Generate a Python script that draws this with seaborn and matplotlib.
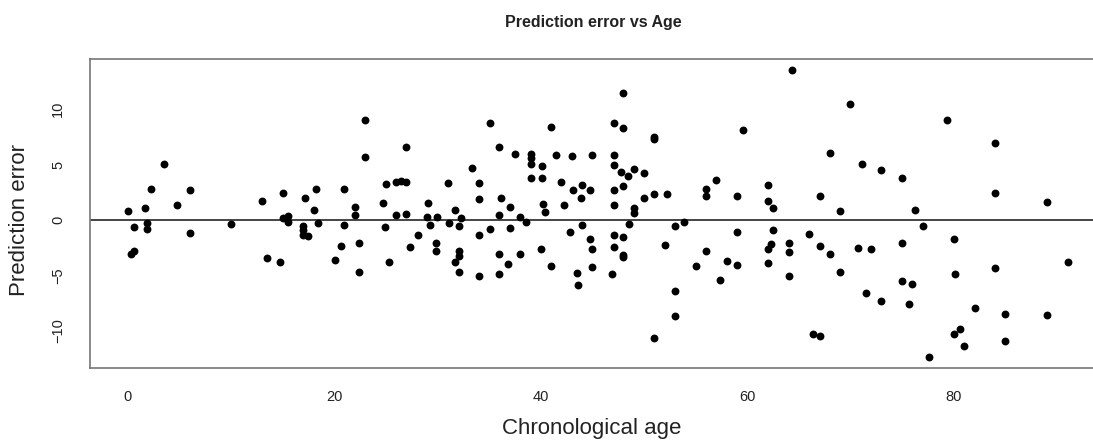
import numpy as np
import pandas as pd
import matplotlib
matplotlib.use("Agg")
import matplotlib.pyplot as plt
import seaborn as sns

# chronological age (years)
age = [
    0.0, 0.6, 0.3, 0.6, 3.5, 2.3, 1.7, 1.9, 1.9, 4.8, 6.0, 6.0, 10.0, 13.0, 13.5,
    14.8, 15.0, 15.0, 15.5, 15.5, 17.0, 17.0, 17.0, 17.5, 17.2, 18.0, 18.2, 18.4,
    20.1, 20.7, 21.0, 21.0, 22.0, 22.0, 22.4, 22.4, 23.0, 23.0, 24.7, 25.0, 24.9,
    25.3, 26.0, 26.5, 27.0, 27.0, 26.0, 27.0, 27.3, 28.1, 29.1, 29.0, 29.3, 30.0,
    29.9, 29.9,
    31.0, 31.1, 31.7, 32.1, 32.3, 31.7, 32.1, 32.1, 32.1, 33.3, 34.0, 34.0, 34.0,
    34.0, 35.1, 35.1, 36.0, 36.2, 36.0, 37.0, 37.0, 36.0, 36.8, 36.0, 37.5, 38.0,
    38.6, 38.0, 39.1, 39.1, 39.1, 39.1, 40.1, 40.1, 40.2, 40.4, 40.0, 41.0, 41.0,
    41.5, 42.0, 42.3, 42.8, 43.0, 43.1, 43.9, 44.0, 44.8, 44.0, 43.5, 43.6, 44.8,
    45.0, 45.0, 45.0,
    48.0, 47.1, 48.0, 47.1, 47.1, 47.8, 48.5, 49.0, 50.0, 48.0, 47.1, 47.1, 49.0,
    49.0, 48.6, 50.0, 51.0, 51.0, 51.0, 52.2, 47.1, 48.0, 47.1, 48.0, 48.0, 46.9,
    51.0, 52.0, 53.0, 53.9, 53.0, 53.0, 55.0, 56.0, 56.0, 56.0, 57.0, 57.4, 58.0,
    59.0, 59.0, 59.0, 59.6, 62.0, 62.0, 62.5, 62.5, 62.0, 62.3, 62.0,
    64.0, 64.0, 64.0, 64.3, 66.0, 67.0, 67.0, 68.0, 68.0, 66.4, 67.0, 69.0, 69.0,
    70.0, 70.7, 71.1, 71.5, 72.0, 73.0, 73.0, 75.0, 75.0, 75.0, 76.0, 75.7, 76.2,
    77.0, 77.6, 79.3,
    84.0, 84.0, 89.0, 80.0, 80.1, 84.0, 91.1, 82.1, 85.0, 89.0, 80.6, 80.0, 81.0,
    85.0,
]

# prediction error for each subject
error = [
    0.77, -0.62, -3.03, -2.82, 5.05, 2.76, 1.04, -0.23, -0.80, 1.31, 2.70, -1.19,
    -0.32, 1.67, -3.45,
    -3.81, 2.40, 0.20, 0.32, -0.17, -0.56, -0.92, -1.31, -1.46, 1.94, 0.86, 2.79,
    -0.26, -3.63, -2.37, 2.79, -0.44, 1.13, 0.47, -2.09, -4.66, 9.00, 5.68, 1.49,
    3.21, -0.62, -3.81, 3.42, 3.48, 3.42, 6.59, 0.47, 0.56, -2.46, -1.34, 1.49,
    0.29, -0.44, 0.29, -2.09, -2.82,
    3.33, -0.26, 0.89, -0.56, 0.14, -3.81, -2.79, -3.27, -4.66, 4.69, 3.33, 1.85,
    -1.37, -5.08, 8.73, -0.77, 6.62, 1.94, 0.47, 1.19, -0.71, -3.09, -4.00, -4.84,
    5.98, 0.26, -0.14, -3.09, 5.95, 5.62, 5.05, 3.75, 4.87, 3.75, 1.40, 0.68,
    -2.64, 8.36, -4.17, 5.89, 3.39, 1.37, -1.07, 5.74, 2.67, 2.00, 3.12, 2.67,
    -0.44, -4.75, -5.83, -1.70, -2.64, -4.27, 5.89,
    11.44, 8.73, 8.33, 5.89, 4.96, 4.32, 3.93, 4.60, 4.23, 3.03, 2.67, 1.37, 1.04,
    0.59, -0.35, 2.00, 7.52, 7.34, 2.31, 2.31, -1.37, -1.55, -2.46, -3.15, -3.36,
    -4.84, -10.68, -2.28, -0.56, -0.14, -6.37, -8.67, -4.17, -2.82, 2.79, 2.12,
    3.60, -5.38, -3.72, 2.12, -1.07, -4.08, 8.15, 3.15, 1.67, 1.04, -0.89, -2.64,
    -2.16, -3.90,
    -2.09, -2.91, -5.08, 13.49, -1.28, 2.12, -2.34, 6.07, -3.03, -10.29, -10.50,
    0.77, -4.66, 10.44, -2.55, 5.05, -6.56, -2.61, 4.50, -7.31, 3.75, -2.09,
    -5.47, -5.74, -7.58, 0.86, -0.56, -12.32, 9.00,
    6.98, 2.40, 1.58, -1.70, -4.84, -4.36, -3.75, -7.94, -8.48, -8.58, -9.84,
    -10.29, -11.41, -10.95,
]

x_ticks = [0, 20, 40, 60, 80]
y_ticks = [-10, -5, 0, 5, 10]

df = pd.DataFrame({"age": age, "error": error})

sns.set_style("white")
plt.rcParams["font.family"] = ["Liberation Sans", "DejaVu Sans"]

fig = plt.figure(figsize=(10.93, 4.46), dpi=100)
# plot region runs past the right edge of the picture, as in the original crop
ax = fig.add_axes([90 / 1093, 78 / 446, 1016 / 1093, 309 / 446])

sns.scatterplot(data=df, x="age", y="error", color="black", s=32,
                linewidth=0, ax=ax, zorder=3)
ax.axhline(0, color="#444444", lw=1.4, zorder=2)

# R-style 4% padding around the data range
xr = df["age"].max() - df["age"].min()
yr = df["error"].max() - df["error"].min()
ax.set_xlim(df["age"].min() - 0.04 * xr, df["age"].max() + 0.04 * xr)
ax.set_ylim(df["error"].min() - 0.04 * yr, df["error"].max() + 0.04 * yr)

ax.set_xticks(x_ticks)
ax.set_yticks(y_ticks)
ax.tick_params(axis="both", direction="out", length=5, width=0.9,
               color="#555555", labelsize=10.5, labelcolor="#222222")
ax.tick_params(axis="x", pad=11)
ax.tick_params(axis="y", pad=13)
for lab in ax.get_yticklabels():
    lab.set_rotation(90)
    lab.set_va("center")

for sp in ax.spines.values():
    sp.set_color("#777777")
    sp.set_linewidth(1.2)
ax.spines["right"].set_visible(False)

ax.set_xlabel("Chronological age", fontsize=16, color="#222222")
ax.set_ylabel("Prediction error", fontsize=16, color="#222222")
ax.xaxis.set_label_coords(0.494, -0.195)
ax.yaxis.set_label_coords(-0.069, 0.48)
ax.xaxis.label.set_va("center")
ax.yaxis.label.set_va("center")

fig.text(593 / 1093, 1 - 22 / 446, "Prediction error vs Age", ha="center",
         va="center", fontsize=11.5, fontweight="bold", color="#222222")

fig.savefig("out.png", dpi=100)
